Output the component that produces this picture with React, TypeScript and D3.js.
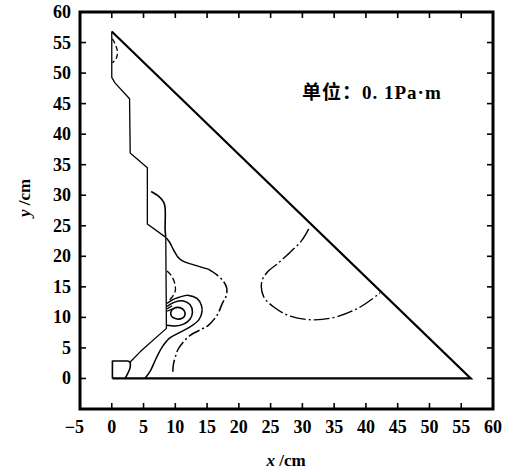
import React from "react";
import * as d3 from "d3";

type P = [number, number];

const xTicks = [-5, 0, 5, 10, 15, 20, 25, 30, 35, 40, 45, 50, 55, 60];
const yTicks = [0, 5, 10, 15, 20, 25, 30, 35, 40, 45, 50, 55, 60];
const allTicks = [-5, 0, 5, 10, 15, 20, 25, 30, 35, 40, 45, 50, 55, 60];

// dam boundary
const boundary: P[] = [[0, 56.8], [56.5, 0], [0.1, 0]];

// stepped contour hugging the upstream face
const stepContour: P[] = [
  [0, 56.8], [0, 49.3], [0.5, 48.4], [2.8, 45.8], [2.9, 36.9], [5.6, 34.5],
  [5.6, 25.3], [8.5, 23.1], [8.6, 8.2], [4.5, 4.4], [2.9, 2.7],
];
const cornerBoxTop: P[] = [[2.9, 2.7], [2.5, 2.85], [0.1, 2.85], [0.1, 0]];
const cornerBoxSide: P[] = [[2.9, 2.7], [2.9, 1.8], [2.5, 0.8], [2.1, 0]];
const topLoop: P[] = [[0.1, 55.6], [0.6, 54.6], [0.9, 53.3], [0.6, 52.2], [0.1, 51.7]];
const upperArc: P[] = [[6.2, 30.6], [7.4, 29.8], [8.2, 28.8], [8.4, 27.8], [8.4, 24.3], [8.5, 23.2]];

// outer contour around the re-entrant corner
const outerSolid: P[] = [
  [8.6, 23.0], [9.1, 22.3], [9.7, 21.1], [10.4, 19.9], [11.2, 19.2], [12.9, 18.6], [15.2, 17.9],
];
const outerDashed: P[] = [
  [15.2, 17.9], [16.5, 17.0], [17.5, 16.0], [18.1, 14.8], [18.0, 13.5], [17.4, 12.3],
  [16.6, 10.4], [15.2, 8.7], [14.2, 8.1], [12.4, 7.1], [11.2, 5.9], [10.4, 4.7],
  [10.0, 3.5], [9.7, 2.3], [9.6, 0.8],
];
const innerDashLoop: P[] = [[8.7, 17.6], [9.4, 16.8], [9.9, 15.6], [10.0, 14.4], [9.5, 13.3], [8.8, 12.6]];
const midContour: P[] = [
  [8.7, 12.3], [9.6, 12.9], [10.6, 13.3], [12.1, 13.6], [13.4, 13.1], [14.1, 12.0],
  [14.2, 10.9], [13.7, 9.6], [12.4, 8.5], [10.8, 7.6], [9.1, 6.6], [7.9, 5.1],
  [6.9, 3.1], [6.1, 1.3], [5.2, 0],
];
const smallContour: P[] = [
  [8.7, 11.8], [9.9, 12.5], [11.3, 12.7], [12.3, 12.1], [12.7, 10.9], [12.3, 9.7],
  [11.3, 8.9], [10.0, 8.6], [8.7, 8.7],
];
const innerEllipse: P[] = [
  [9.3, 10.9], [9.8, 11.5], [10.7, 11.6], [11.4, 11.1], [11.5, 10.3], [11.0, 9.8], [10.0, 9.8], [9.4, 10.2],
];
const cornerTicks: P[][] = [
  [[8.7, 11.0], [9.6, 11.4]],
  [[8.7, 11.4], [9.5, 11.9]],
];

// dashed contour near the downstream face
const rightDashed: P[] = [
  [31.0, 24.5], [29.9, 22.6], [28.0, 20.6], [26.2, 18.9], [24.4, 17.3], [23.6, 15.8],
  [23.9, 13.4], [25.5, 11.7], [28.1, 10.2], [31.8, 9.6], [35.4, 10.1], [39.1, 11.7], [42.2, 14.0],
];

const W = 521;
const H = 472;

export default function App() {
  const x = d3.scaleLinear().domain([-5, 60]).range([80, 493]);
  const y = d3.scaleLinear().domain([-5, 60]).range([409, 12]);
  const lin = d3.line<P>().x((d) => x(d[0])).y((d) => y(d[1]));
  const smooth = d3
    .line<P>()
    .x((d) => x(d[0]))
    .y((d) => y(d[1]))
    .curve(d3.curveCatmullRom.alpha(0.5));
  const closed = d3
    .line<P>()
    .x((d) => x(d[0]))
    .y((d) => y(d[1]))
    .curve(d3.curveCatmullRomClosed.alpha(0.5));

  const serif = "'Liberation Serif', 'DejaVu Serif', serif";
  const dash = "12 3 2 3";
  const x0 = x.range()[0];
  const x1 = x.range()[1];
  const y0 = y.range()[0];
  const y1 = y.range()[1];

  return (
    <svg width={W} height={H} style={{ position: "absolute", left: 0, top: 0, background: "#fff" }}>
      <rect x={0} y={0} width={W} height={H} fill="#fff" />
      {/* frame */}
      <rect x={x0} y={y1} width={x1 - x0} height={y0 - y1} fill="none" stroke="#000" strokeWidth={3} />
      {/* ticks */}
      {allTicks.slice(1, -1).map((t) => (
        <g key={"t" + t} stroke="#000" strokeWidth={1.6}>
          <line x1={x(t)} x2={x(t)} y1={y0} y2={y0 - 6} />
          <line x1={x(t)} x2={x(t)} y1={y1} y2={y1 + 6} />
          <line x1={x0} x2={x0 + 6} y1={y(t)} y2={y(t)} />
          <line x1={x1} x2={x1 - 6} y1={y(t)} y2={y(t)} />
        </g>
      ))}
      {/* tick labels */}
      {xTicks.map((t) => (
        <text
          key={"xl" + t}
          x={t < 0 ? x(t) + 4 : x(t)}
          y={433}
          textAnchor={t < 0 ? "end" : "middle"}
          fontFamily={serif}
          fontWeight="bold"
          fontSize={18}
        >
          {t < 0 ? "\u2212" + Math.abs(t) : t}
        </text>
      ))}
      {yTicks.map((t) => (
        <text
          key={"yl" + t}
          x={71}
          y={y(t) + 6}
          textAnchor="end"
          fontFamily={serif}
          fontWeight="bold"
          fontSize={18}
        >
          {t}
        </text>
      ))}
      {/* axis titles */}
      <text x={286} y={466} textAnchor="middle" fontFamily={serif} fontWeight="bold" fontSize={17}>
        <tspan fontStyle="italic">x</tspan> /cm
      </text>
      <text
        transform="translate(30,198) rotate(-90)"
        textAnchor="middle"
        fontFamily={serif}
        fontWeight="bold"
        fontSize={17}
      >
        <tspan fontStyle="italic">y</tspan> /cm
      </text>
      {/* unit note */}
      <text x={302} y={99} fontWeight="bold" fontSize={19} letterSpacing={1}>
        <tspan fontFamily="'Noto Sans CJK SC'">单位：</tspan>
        <tspan fontFamily={serif}>0. 1Pa·m</tspan>
      </text>

      {/* boundary */}
      <path d={lin(boundary) ?? ""} fill="none" stroke="#000" strokeWidth={2.2} strokeLinejoin="miter" />

      {/* contours */}
      <g fill="none" stroke="#000" strokeWidth={1.3} strokeLinejoin="round">
        <path d={lin(stepContour) ?? ""} />
        <path d={lin(cornerBoxTop) ?? ""} strokeWidth={1.6} />
        <path d={smooth(cornerBoxSide) ?? ""} strokeWidth={1.6} />
        <path d={smooth(topLoop) ?? ""} strokeDasharray="5 3" />
        <path d={smooth(upperArc) ?? ""} strokeWidth={1.6} />
        <path d={smooth(outerSolid) ?? ""} strokeWidth={1.5} />
        <path d={smooth(outerDashed) ?? ""} strokeWidth={1.5} strokeDasharray={dash} />
        <path d={smooth(innerDashLoop) ?? ""} strokeDasharray="6 3" />
        <path d={smooth(midContour) ?? ""} strokeWidth={1.5} />
        <path d={smooth(smallContour) ?? ""} strokeWidth={1.5} />
        <path d={closed(innerEllipse) ?? ""} strokeWidth={1.6} />
        {cornerTicks.map((c, i) => (
          <path key={"ct" + i} d={lin(c) ?? ""} />
        ))}
        <path d={smooth(rightDashed) ?? ""} strokeWidth={1.4} strokeDasharray="16 3 2 3" />
      </g>
    </svg>
  );
}
